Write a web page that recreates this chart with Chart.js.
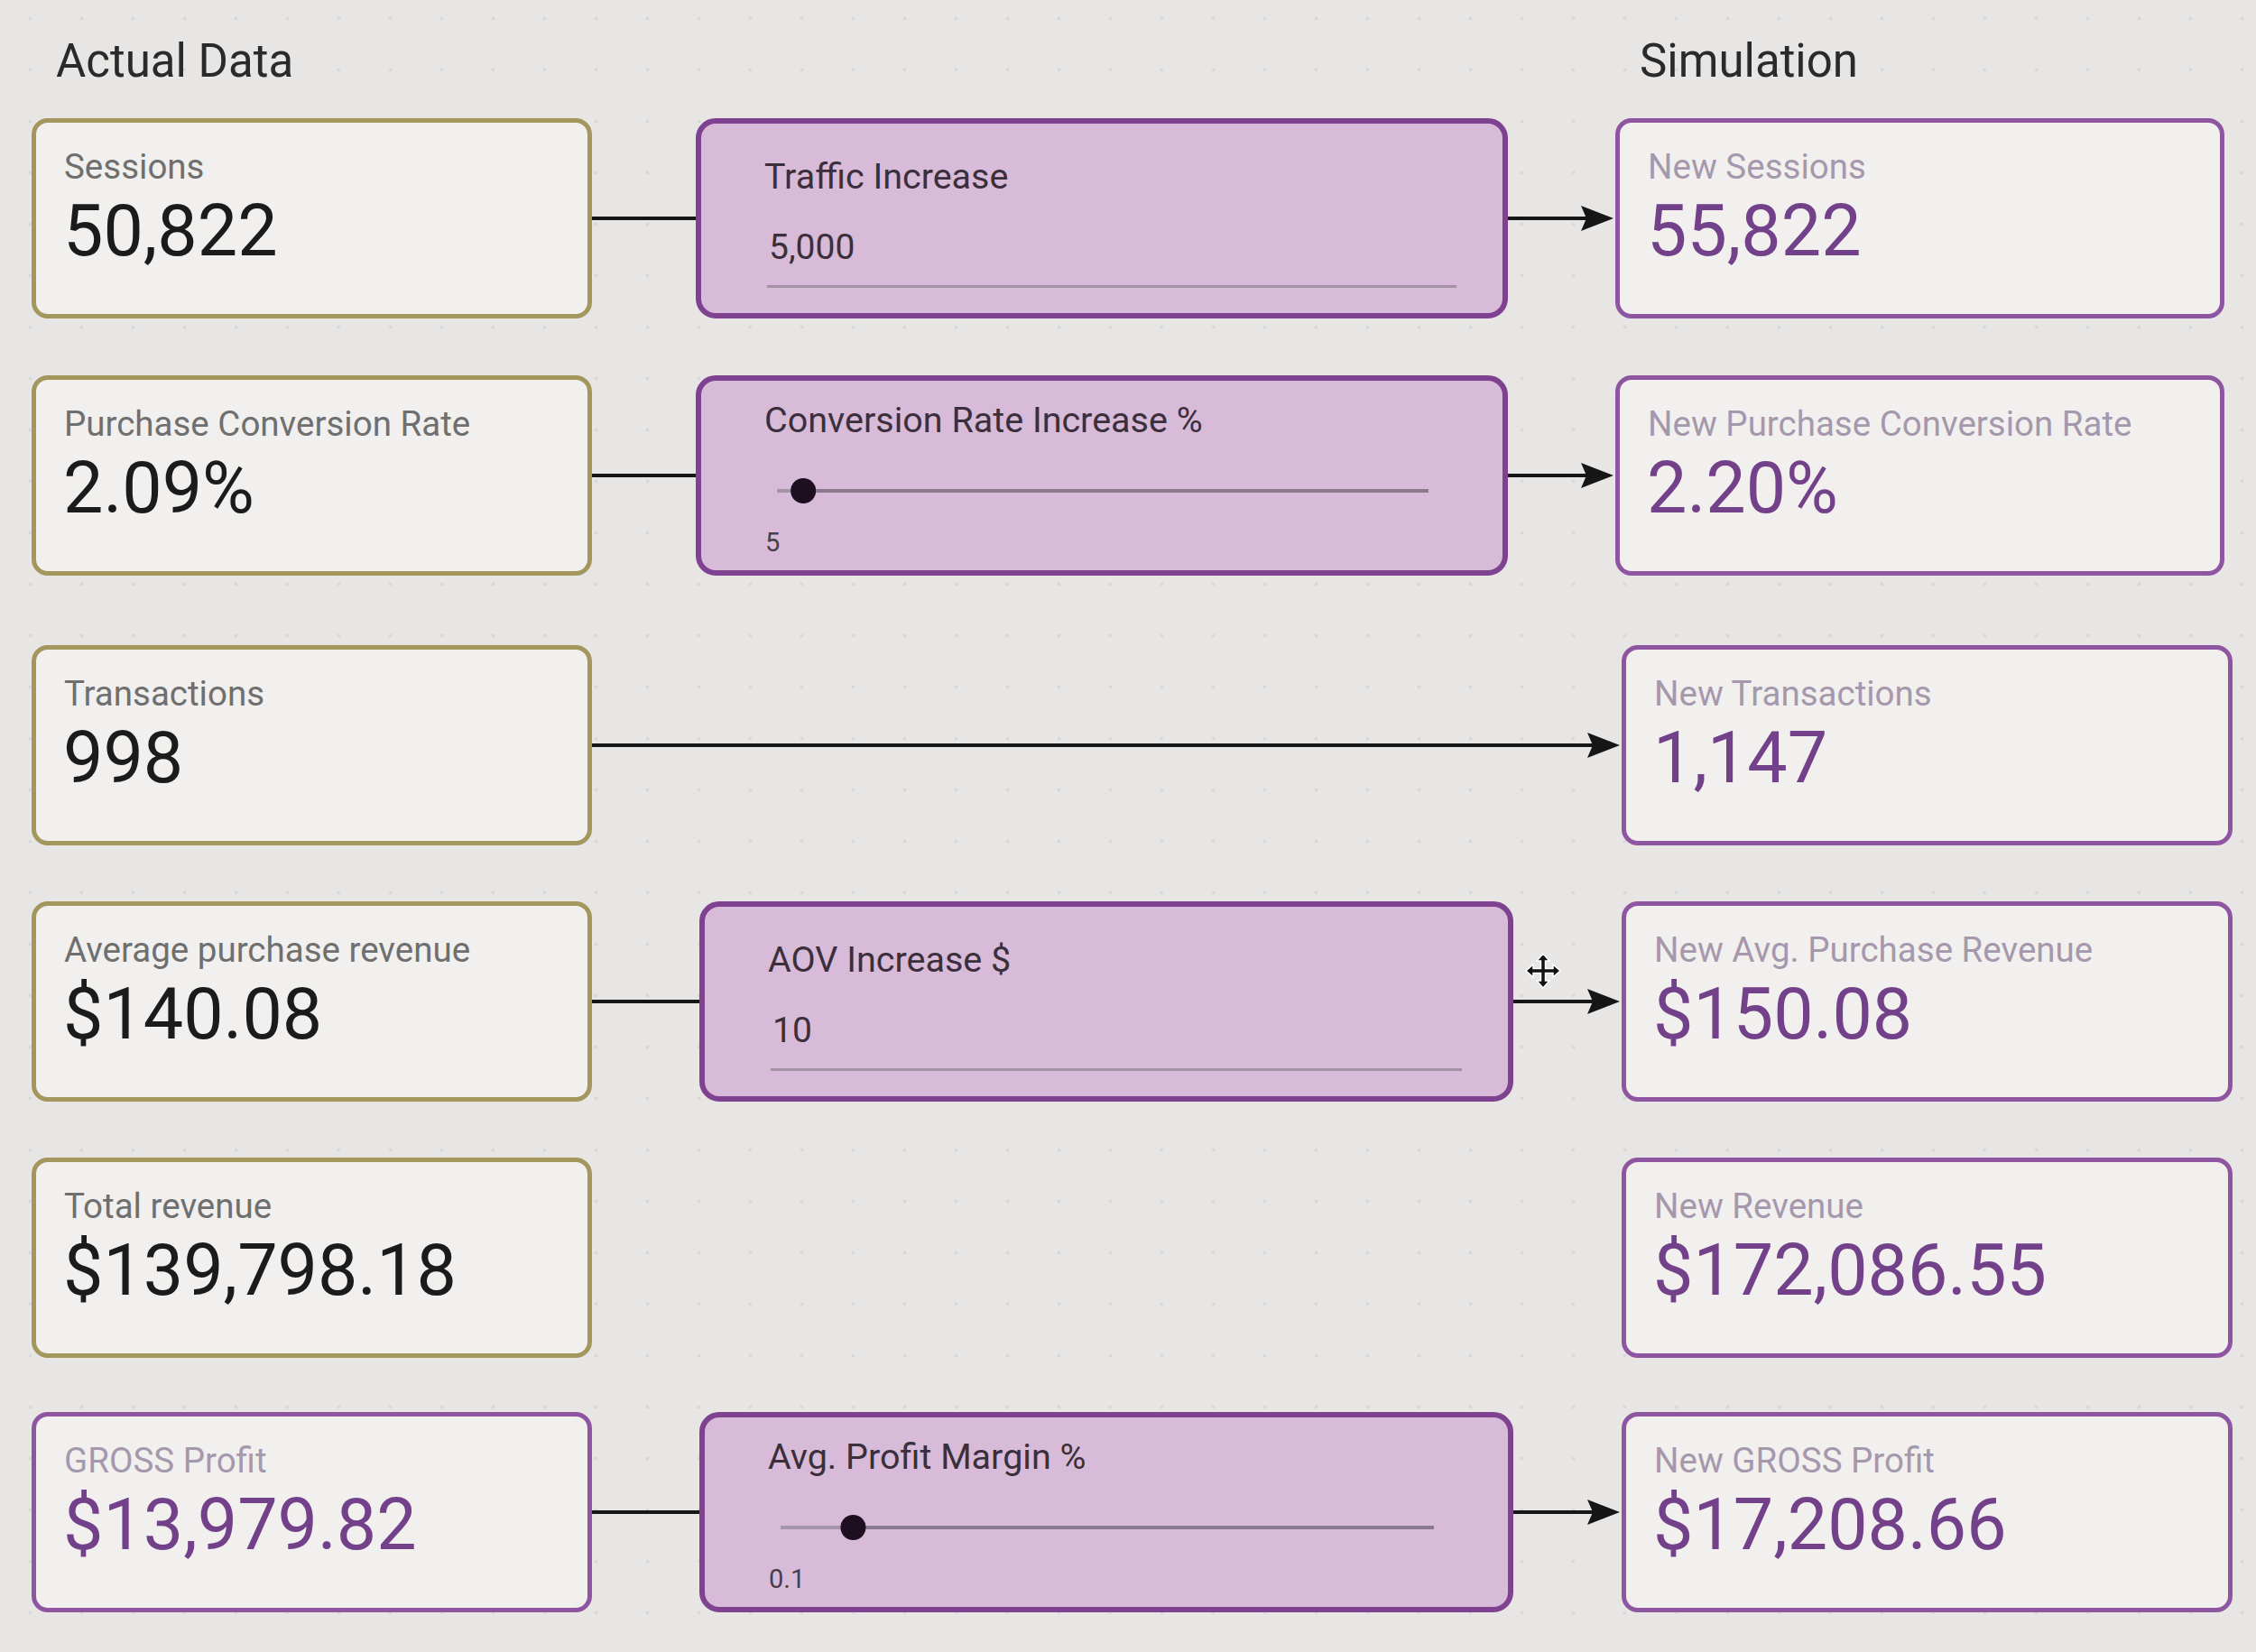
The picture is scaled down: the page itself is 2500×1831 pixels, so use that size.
<!DOCTYPE html>
<html>
<head>
<meta charset="utf-8">
<script src="https://cdn.jsdelivr.net/npm/chart.js@4.4.1/dist/chart.umd.min.js"></script>
<style>
  html,body{margin:0;padding:0;}
  body{width:2500px;height:1831px;position:relative;overflow:hidden;font-family:Roboto,"Noto Sans",sans-serif;
    background-color:#e7e6e5;
    background-image:radial-gradient(circle, rgba(0,0,0,0.06) 1.5px, rgba(0,0,0,0) 2.3px);
    background-size:57px 57px;background-position:5px -8px;}
  #links{position:absolute;left:0;top:0;z-index:0;}
  .card{position:absolute;box-sizing:border-box;border-radius:18px;background:#f1f0ee;z-index:1;}
  .gold{border:5px solid #a3975e;}
  .purple{border:5px solid #8e55a1;}
  .lbl{position:absolute;left:31px;top:30px;font-size:38.5px;line-height:38.5px;white-space:nowrap;}
  .val{position:absolute;left:30px;top:81px;font-size:79px;line-height:79px;white-space:nowrap;}
  .gold .lbl{color:#6f6f6f;} .gold .val{color:#1b1b1b;}
  .purple .lbl{color:#a698ac;} .purple .val{color:#73408a;}
  .ctrl{position:absolute;box-sizing:border-box;border:6px solid #7f4290;border-radius:22px;background:#d7bbd8;z-index:1;}
  .ctitle{position:absolute;left:70px;font-size:39.5px;line-height:39.5px;color:#3b2f3c;white-space:nowrap;}
  .cin{position:absolute;left:75px;top:118px;font-size:39px;line-height:39px;color:#3b2f3c;}
  .cline{position:absolute;left:73px;right:51px;top:179px;height:3px;background:#a393a5;}
  .clab{position:absolute;left:71px;top:165px;font-size:29px;line-height:29px;color:#4a3e4b;}
  .slider{position:absolute;}
  .head{position:absolute;top:42px;font-size:51px;line-height:51px;color:#2a2a2a;white-space:nowrap;}
  #cursor{position:absolute;left:1690px;top:1055px;z-index:3;}
</style>
</head>
<body>
<canvas id="links" width="2500" height="1831"></canvas>
<div class="head" style="left:62px">Actual Data</div>
<div class="head" style="left:1817px">Simulation</div>
<svg id="cursor" width="40" height="42" viewBox="-20 -21 40 42">
  <g fill="#111" stroke="#fff" stroke-width="1.5">
    <path d="M0,-19 L7,-11 L2.5,-11 L2.5,-2.5 L11,-2.5 L11,-7 L19,0 L11,7 L11,2.5 L2.5,2.5 L2.5,11 L7,11 L0,19 L-7,11 L-2.5,11 L-2.5,2.5 L-11,2.5 L-11,7 L-19,0 L-11,-7 L-11,-2.5 L-2.5,-2.5 L-2.5,-11 L-7,-11 Z"/>
  </g>
</svg>
<script>
// ---------------- DATA ----------------
const actualLabels = ["Sessions", "Purchase Conversion Rate", "Transactions", "Average purchase revenue", "Total revenue", "GROSS Profit"];
const actualValues = ["50,822", "2.09%", "998", "$140.08", "$139,798.18", "$13,979.82"];
const actualStyle  = ["gold", "gold", "gold", "gold", "gold", "purple"];
const simLabels    = ["New Sessions", "New Purchase Conversion Rate", "New Transactions", "New Avg. Purchase Revenue", "New Revenue", "New GROSS Profit"];
const simValues    = ["55,822", "2.20%", "1,147", "$150.08", "$172,086.55", "$17,208.66"];
const controlTitles = ["Traffic Increase", "Conversion Rate Increase %", null, "AOV Increase $", null, "Avg. Profit Margin %"];
const controlKinds  = ["input", "slider", null, "input", null, "slider"];
const controlValues = [5000, 5, null, 10, null, 0.1];
const sliderMins    = [null, 1, null, null, null, 0];
const sliderMaxs    = [null, 100, null, null, null, 0.9];

// ---------------- LAYOUT ----------------
const rowTops = [131, 416, 715, 999, 1283, 1565];
const rowH = 222;
const leftBox = {x: 35, w: 621};
const midBoxes = [{x: 771, w: 900}, {x: 771, w: 900}, null, {x: 775, w: 902}, null, {x: 775, w: 902}];
const rightBoxes = [{x: 1790, w: 675}, {x: 1790, w: 675}, {x: 1797, w: 677}, {x: 1797, w: 677}, {x: 1797, w: 677}, {x: 1797, w: 677}];

function el(cls, style, parent, text) {
  const d = document.createElement('div');
  d.className = cls;
  if (style) d.style.cssText = style;
  if (text != null) d.textContent = text;
  (parent || document.body).appendChild(d);
  return d;
}

const sliderSpecs = [];
rowTops.forEach((top, i) => {
  const a = el('card ' + actualStyle[i], `left:${leftBox.x}px;top:${top}px;width:${leftBox.w}px;height:${rowH}px;`);
  el('lbl', null, a, actualLabels[i]);
  el('val', null, a, actualValues[i]);
  const rb = rightBoxes[i];
  const s = el('card purple', `left:${rb.x}px;top:${top}px;width:${rb.w}px;height:${rowH}px;`);
  el('lbl', null, s, simLabels[i]);
  el('val', null, s, simValues[i]);
  const mb = midBoxes[i];
  if (mb) {
    const c = el('ctrl', `left:${mb.x}px;top:${top}px;width:${mb.w}px;height:${rowH}px;`);
    const txt = controlValues[i].toLocaleString('en-US');
    if (controlKinds[i] === 'input') {
      el('ctitle', 'top:39px;', c, controlTitles[i]);
      el('cin', null, c, txt);
      el('cline', null, c);
    } else {
      el('ctitle', 'top:24px;', c, controlTitles[i]);
      el('clab', null, c, txt);
      const trackX0 = mb.x + 90, trackX1 = mb.x + mb.w - 88, trackY = top + 128;
      const pad = 22;
      const cv = document.createElement('canvas');
      cv.className = 'slider';
      cv.width = (trackX1 - trackX0) + 2 * pad;
      cv.height = 44;
      cv.style.cssText = `left:${trackX0 - pad}px;top:${trackY - 22}px;z-index:2;`;
      document.body.appendChild(cv);
      sliderSpecs.push({cv, pad, i});
    }
  }
});

// ---------------- SLIDERS (Chart.js) ----------------
sliderSpecs.forEach(({cv, pad, i}) => {
  new Chart(cv, {
    type: 'scatter',
    data: {
      datasets: [
        {data: [{x: controlValues[i], y: 0}], pointRadius: 14, pointHoverRadius: 14,
         backgroundColor: '#1d0f20', borderColor: '#1d0f20', borderWidth: 0, clip: false},
        {data: [{x: sliderMins[i], y: 0}, {x: controlValues[i], y: 0}], showLine: true,
         borderColor: '#a695a8', borderWidth: 4, pointRadius: 0, pointHoverRadius: 0, clip: false},
        {data: [{x: controlValues[i], y: 0}, {x: sliderMaxs[i], y: 0}], showLine: true,
         borderColor: '#8b7a8d', borderWidth: 4, pointRadius: 0, pointHoverRadius: 0, clip: false}
      ]
    },
    options: {
      responsive: false, animation: false, events: [],
      layout: {autoPadding: false, padding: {left: pad, right: pad, top: 0, bottom: 0}},
      plugins: {legend: {display: false}, tooltip: {enabled: false}},
      scales: {
        x: {type: 'linear', min: sliderMins[i], max: sliderMaxs[i], display: false},
        y: {type: 'linear', min: -1, max: 1, display: false}
      }
    }
  });
});

// ---------------- CONNECTORS (Chart.js) ----------------
const arrow = document.createElement('canvas');
arrow.width = 36; arrow.height = 28;
(function () {
  const g = arrow.getContext('2d');
  g.fillStyle = '#161616';
  g.beginPath(); g.moveTo(36, 14); g.lineTo(0, 0); g.lineTo(6, 14); g.lineTo(0, 28); g.closePath(); g.fill();
})();

const linkSets = [];
const arrowPts = [];
rowTops.forEach((top, i) => {
  const cy = top + rowH / 2;
  const mb = midBoxes[i];
  const rb = rightBoxes[i];
  const lRight = leftBox.x + leftBox.w;
  const tip = rb.x - 2;
  if (mb) {
    linkSets.push([{x: lRight - 2, y: cy}, {x: mb.x + 2, y: cy}]);
    linkSets.push([{x: mb.x + mb.w - 2, y: cy}, {x: tip - 20, y: cy}]);
  } else if (i === 2) {
    linkSets.push([{x: lRight - 2, y: cy}, {x: tip - 20, y: cy}]);
  }
  if (mb || i === 2) arrowPts.push({x: tip - 18, y: cy});
});

new Chart(document.getElementById('links'), {
  type: 'scatter',
  data: {
    datasets: [
      {data: arrowPts, pointStyle: arrow, pointRadius: 18, pointHoverRadius: 18, clip: false},
      ...linkSets.map(d => ({data: d, showLine: true, borderColor: '#161616', borderWidth: 4,
                             pointRadius: 0, pointHoverRadius: 0, clip: false}))
    ]
  },
  options: {
    responsive: false, animation: false, events: [],
    layout: {autoPadding: false, padding: 0},
    plugins: {legend: {display: false}, tooltip: {enabled: false}},
    scales: {
      x: {type: 'linear', min: 0, max: 2500, display: false},
      y: {type: 'linear', min: 0, max: 1831, reverse: true, display: false}
    }
  }
});
</script>
</body>
</html>
